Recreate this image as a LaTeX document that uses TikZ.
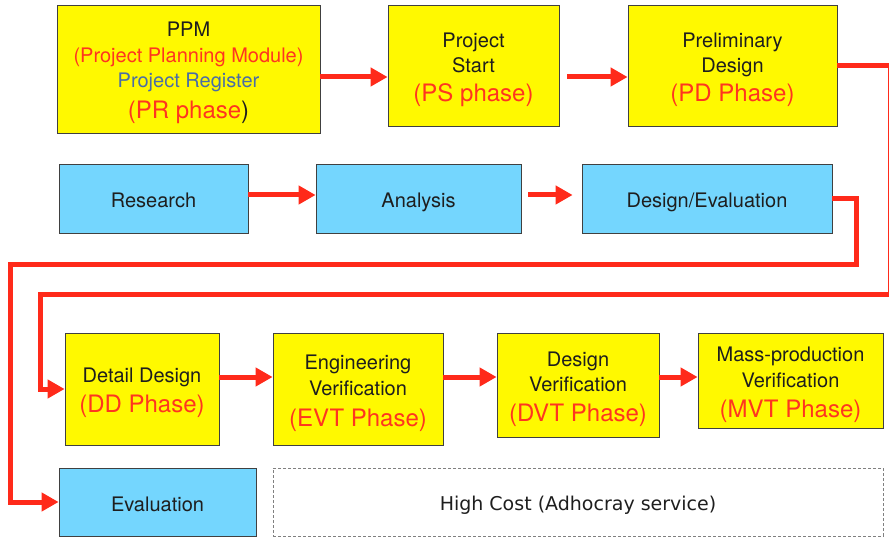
\documentclass[tikz,border=0pt]{standalone}
\usepackage{fontspec}
\setmainfont{TeX Gyre Heros}
\newfontfamily\notafont{DejaVu Sans}
\usepackage{xcolor}
\usepackage{tikz}
\usetikzlibrary{arrows.meta,positioning}
\definecolor{amarillo}{HTML}{FFF900}
\definecolor{celeste}{HTML}{74D6FE}
\definecolor{rojo}{HTML}{FF2A1A}
\definecolor{rojotexto}{HTML}{FF3520}
\definecolor{azultexto}{HTML}{4A6DA6}
\definecolor{borde}{HTML}{404040}
\definecolor{texto}{HTML}{1E1E1E}
\newcommand{\grande}{\fontsize{24}{29}\selectfont}
\newcommand{\arriba}{\rule{0pt}{23pt}}
\tikzset{
  caja/.style={draw=borde,line width=0.8pt,fill=amarillo,align=center,text=texto,font=\fontsize{20}{25.5}\selectfont,inner sep=0pt,execute at begin node={\rule[-5pt]{0pt}{28pt}}},
  cajaazul/.style={caja,fill=celeste},
  zona/.style={draw=gray,line width=0.8pt,dash pattern=on 3pt off 2pt,align=center,text=texto,font=\notafont\fontsize{19}{23}\selectfont,inner sep=0pt,execute at begin node={\rule[-5pt]{0pt}{27pt}}},
  flecha/.style={-{Triangle[length=17pt,width=18pt]},line width=5pt,rojo},
}

\begin{document}
\begin{tikzpicture}[x=1pt,y=-1pt]
  \useasboundingbox (0,0) rectangle (889,537);
  % fases
  \node[caja,minimum width=263pt,minimum height=128pt] (ppm) at (188.5,69) {\arriba PPM\\{\color{rojotexto}(Project Planning Module)}\\{\color{azultexto}Project Register}\\[5.5pt]{\grande\textcolor{rojotexto}{(PR phase})}};
  \node[caja,minimum width=171pt,minimum height=121pt] (ps) at (473.5,65.5) {\arriba Project\\Start\\[3.5pt]{\grande\color{rojotexto}(PS phase)}};
  \node[caja,minimum width=209pt,minimum height=121pt] (pd) at (732.5,65.5) {\arriba Preliminary\\Design\\[3.5pt]{\grande\color{rojotexto}(PD Phase)}};
  \node[cajaazul,minimum width=189pt,minimum height=69pt] (research) at (153.5,198.5) {Research};
  \node[cajaazul,minimum width=205pt,minimum height=69pt] (analysis) at (418.5,198.5) {Analysis};
  \node[cajaazul,minimum width=250pt,minimum height=69pt] (deseval) at (707,198.5) {Design/Evaluation};
  \node[caja,minimum width=154pt,minimum height=112pt] (dd) at (142,389) {\arriba Detail Design\\[4.5pt]{\grande\color{rojotexto}(DD Phase)}};
  \node[caja,minimum width=170pt,minimum height=112pt] (evt) at (358,389) {\arriba Engineering\\Verification\\[5.5pt]{\grande\color{rojotexto}(EVT Phase)}};
  \node[caja,minimum width=162pt,minimum height=104pt] (dvt) at (578,385) {\arriba Design\\Verification\\[4.5pt]{\grande\color{rojotexto}(DVT Phase)}};
  \node[caja,minimum width=185pt,minimum height=95pt] (mvt) at (790.5,380.5) {\arriba Mass-production\\Verification\\[4.5pt]{\grande\color{rojotexto}(MVT Phase)}};
  \node[cajaazul,minimum width=197pt,minimum height=68pt] (evaluation) at (157.5,502) {Evaluation};
  \node[zona,minimum width=610pt,minimum height=68pt] (highcost) at (578,502) {High Cost (Adhocray service)};
  % esquinas de los retornos
  \coordinate (r1) at (890,295);
  \coordinate (l1) at (40,295);
  \coordinate (r2) at (856,265);
  \coordinate (l2) at (10,265);
  % flechas
  \draw[flecha] ([yshift=-8pt]ppm.east) -- ([yshift=-11.5pt]ps.west);
  \draw[flecha,shorten <=8pt] ([yshift=-11.5pt]ps.east) -- ([yshift=-11.5pt]pd.west);
  \draw[flecha] ([yshift=3.5pt]research.east) -- ([yshift=3.5pt]analysis.west);
  \draw[flecha,shorten <=7pt,shorten >=9pt] ([yshift=3.5pt]analysis.east) -- ([yshift=3.5pt]deseval.west);
  \draw[flecha] ([yshift=12pt]dd.east) -- ([yshift=12pt]evt.west);
  \draw[flecha] ([yshift=12pt]evt.east) -- ([yshift=8pt]dvt.west);
  \draw[flecha] ([yshift=8pt]dvt.east) -- ([yshift=3.5pt]mvt.west);
  \draw[flecha] (pd.east) -| (r1) -- (l1) |- (dd.west);
  \draw[flecha] (deseval.east) -| (r2) -- (l2) |- (evaluation.west);
\end{tikzpicture}
\end{document}
